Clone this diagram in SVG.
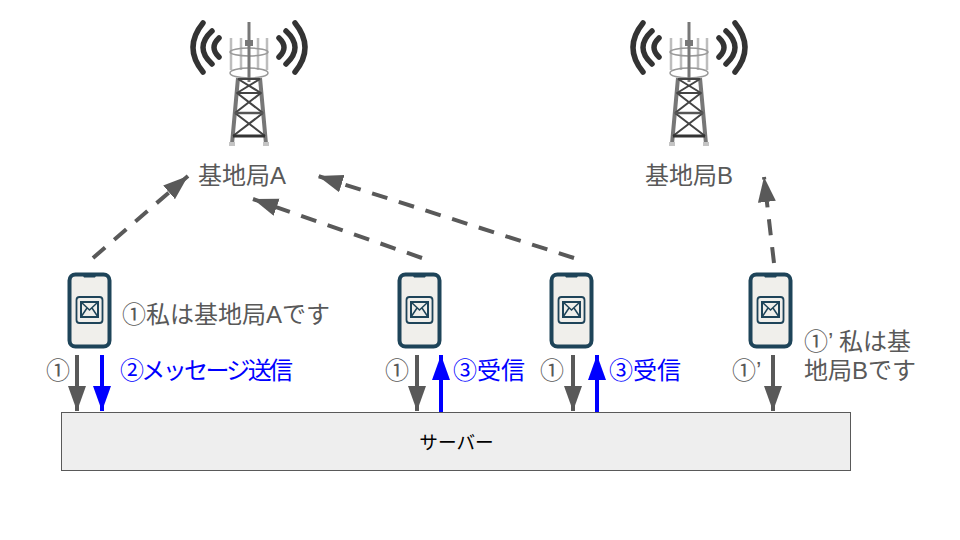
<svg xmlns="http://www.w3.org/2000/svg" xmlns:xlink="http://www.w3.org/1999/xlink" width="960" height="540" viewBox="0 0 960 540">
<style>
text{font-family:"Liberation Sans","Noto Sans CJK JP",sans-serif;font-size:24px;fill:#595959}
.b{fill:#0000ff}
.dash{stroke:#595959;stroke-width:4;stroke-dasharray:16 12;fill:none}
.g{stroke:#595959;stroke-width:4;fill:none}
.u{stroke:#0000ff;stroke-width:4;fill:none}
</style>
<defs>
<marker id="ag" markerUnits="userSpaceOnUse" markerWidth="26" markerHeight="20" refX="25" refY="9" orient="auto"><path d="M0 0L25 9L0 18Z" fill="#595959"/></marker>
<marker id="au" markerUnits="userSpaceOnUse" markerWidth="26" markerHeight="20" refX="25" refY="9" orient="auto"><path d="M0 0L25 9L0 18Z" fill="#0000ff"/></marker>
<g id="tower">
<g fill="none" stroke="#333" stroke-width="5.500" stroke-linecap="round">
<path d="M-30 18Q-40 27.500-30 37"/><path d="M-37 11Q-55 27.500-37 44"/><path d="M-46 3Q-66 27.500-46 52"/>
<path d="M30 18Q40 27.500 30 37"/><path d="M37 11Q55 27.500 37 44"/><path d="M46 3Q66 27.500 46 52"/>
</g>
<g fill="none" stroke="#bdbdbd" stroke-width="2.500">
<path d="M-18 18V50M18 18V50M-8 18V50M9 18V50"/>
<ellipse cx="0" cy="32" rx="19" ry="4" stroke="#999" stroke-width="1.500"/>
<ellipse cx="0" cy="53" rx="19" ry="5" stroke="#999" stroke-width="1.500"/>
</g>
<path d="M0 2V62" stroke="#777" stroke-width="3"/>
<rect x="-4" y="20" width="8" height="6" fill="#777"/>
<path d="M-11 58L-17 124M11 58L17 124" stroke="#777" stroke-width="4" fill="none"/>
<path d="M-11 59L12 73M11 59L-12 73M-12 73L14 93M12 73L-14 93M-14 93L16 116M14 93L-16 116" stroke="#444" stroke-width="2" fill="none"/>
<path d="M-11 59H11M-12.500 73H12.500" stroke="#444" stroke-width="2"/>
<path d="M-14 93H14" stroke="#555" stroke-width="2.500"/>
<path d="M-16 116H16" stroke="#333" stroke-width="3"/>
<rect x="-20" y="122" width="6" height="4" fill="#c4c4c4"/><rect x="14" y="122" width="6" height="4" fill="#c4c4c4"/>
</g>
<g id="phone">
<rect x="2.500" y="2.500" width="40" height="72" rx="6" fill="#f0efeb" stroke="#1e4459" stroke-width="4"/>
<path d="M15 2h15l-2 3.500h-11z" fill="#1e4459"/>
<rect x="9.500" y="25" width="26" height="26" rx="3" fill="#f0efeb" stroke="#1e4459" stroke-width="1.800"/>
<rect x="14" y="30" width="17" height="15" fill="none" stroke="#1e4459" stroke-width="2"/>
<path d="M14 30L22.500 38L31 30M14 45L20 36M31 45L25 36" fill="none" stroke="#1e4459" stroke-width="1.500"/>
</g>
</defs>
<g id="connectors">
<path class="dash" d="M93 258L188 176" marker-end="url(#ag)"/>
<path class="dash" d="M422 258L253 199" marker-end="url(#ag)"/>
<path class="dash" d="M574 258L318 176" marker-end="url(#ag)"/>
<path class="dash" d="M774 263L764 177" marker-end="url(#ag)"/>
<path class="g" d="M77 355V411" marker-end="url(#ag)"/>
<path class="u" d="M102 355V411" marker-end="url(#au)"/>
<path class="g" d="M417 355V411" marker-end="url(#ag)"/>
<path class="u" d="M441 412V355" marker-end="url(#au)"/>
<path class="g" d="M573 355V411" marker-end="url(#ag)"/>
<path class="u" d="M597 412V355" marker-end="url(#au)"/>
<path class="g" d="M773 355V411" marker-end="url(#ag)"/>
</g>
<g id="tower-a"><use xlink:href="#tower" href="#tower" x="249" y="20"/><text x="198" y="184">基地局A</text></g>
<g id="tower-b"><use xlink:href="#tower" href="#tower" x="689" y="20"/><text x="645" y="184">基地局B</text></g>
<g id="phone-1"><use xlink:href="#phone" href="#phone" x="67" y="272"/></g>
<g id="phone-2"><use xlink:href="#phone" href="#phone" x="397" y="272"/></g>
<g id="phone-3"><use xlink:href="#phone" href="#phone" x="549" y="272"/></g>
<g id="phone-4"><use xlink:href="#phone" href="#phone" x="748" y="272"/></g>
<g id="server"><rect x="61.500" y="412.500" width="789" height="58" fill="#eeeeee" stroke="#595959"/><text x="456.500" y="449" text-anchor="middle" style="fill:#000;font-size:18.670px">サーバー</text></g>
<g id="labels">
<text x="122" y="323">①私は基地局Aです</text>
<text x="46" y="379">①</text>
<text x="120" y="379" textLength="173" style="fill:#00f">②メッセージ送信</text>
<text x="385" y="379">①</text>
<text x="453" y="379" style="fill:#00f">③受信</text>
<text x="540" y="379">①</text>
<text x="609" y="379" style="fill:#00f">③受信</text>
<text x="732" y="379">①’</text>
<text x="804" y="350">①’ 私は基</text>
<text x="804" y="379">地局Bです</text>
</g>
</svg>
